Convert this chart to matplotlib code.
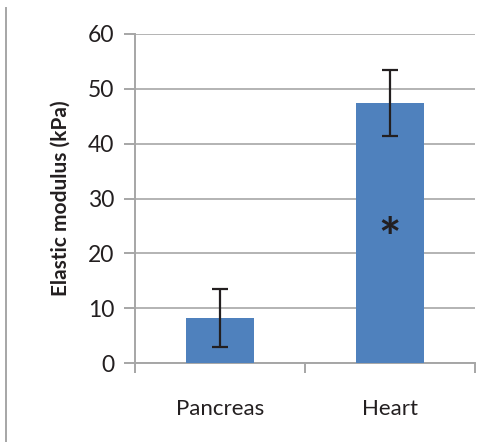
import matplotlib.pyplot as plt
from matplotlib.lines import Line2D
import numpy as np

tissues = ["Pancreas", "Heart"]
modulus = [8.2, 47.4]
modulus_err = [5.3, 6.0]
significant = [False, True]
y_ticks = [0, 10, 20, 30, 40, 50, 60]

plt.rcParams['font.family'] = ['Lato', 'DejaVu Sans']

fig = plt.figure(figsize=(4.97, 4.42), dpi=100)
ax = fig.add_axes([135 / 497, 1 - 363 / 442, 340 / 497, 329 / 442])

x = np.arange(len(tissues))
ax.bar(x, modulus, width=0.4, color="#4f81bd", zorder=3)
ax.errorbar(x, modulus, yerr=modulus_err, fmt="none", ecolor="#231f20",
            elinewidth=1.6, capsize=6, capthick=1.6, zorder=4)

# mark significant differences with an asterisk inside the bar
for xi, val, sig in zip(x, modulus, significant):
    if sig:
        ax.text(xi, val * 0.5 - 1.5, "*", ha="center", va="center", fontsize=38,
                fontweight="bold", color="#231f20", zorder=5)

ax.set_xlim(-0.5, len(tissues) - 0.5)
ax.set_ylim(0, 60)
ax.set_yticks(y_ticks)
ax.set_xticks(x)
ax.set_xticklabels(tissues)
ax.set_xticks(np.arange(-0.5, len(tissues)), minor=True)

ax.grid(axis="y", color="#b3b3b3", linewidth=1.4, zorder=0)
for side in ["top", "right"]:
    ax.spines[side].set_visible(False)
for side in ["left", "bottom"]:
    ax.spines[side].set_color("#a6a6a6")
    ax.spines[side].set_linewidth(1.4)

ax.tick_params(axis="y", length=8, width=1.4, color="#a6a6a6",
               labelsize=16.5, labelcolor="#231f20", pad=7)
ax.tick_params(axis="x", which="major", length=0, labelsize=16,
               labelcolor="#231f20", pad=26)
ax.tick_params(axis="x", which="minor", length=7, width=1.4, color="#a6a6a6")

ax.set_ylabel("Elastic modulus (kPa)", fontsize=15, fontweight="bold",
              color="#231f20", labelpad=12)

fig.add_artist(Line2D([5.5 / 497, 5.5 / 497], [0, 1 - 8 / 442],
                      transform=fig.transFigure, color="#a6a6a6", linewidth=1.4))

fig.savefig("out.png", dpi=100)
